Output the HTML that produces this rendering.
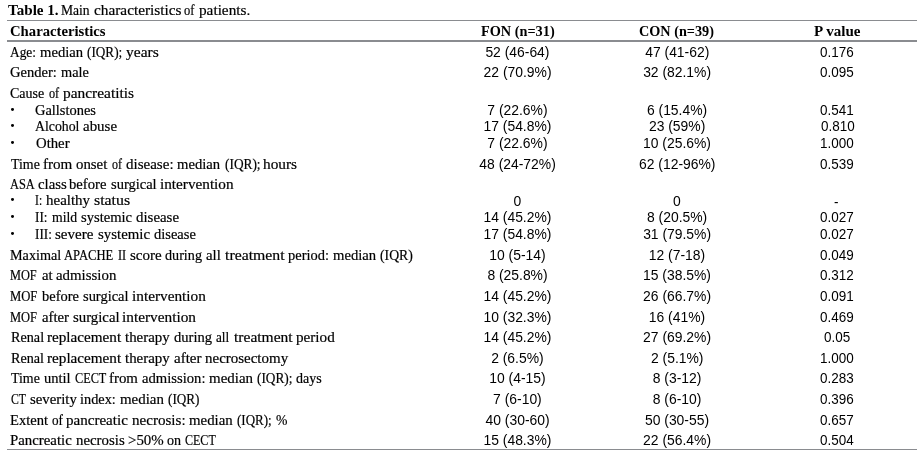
<!DOCTYPE html>
<html><head><meta charset="utf-8"><style>
html,body{margin:0;padding:0;background:#fff;}
body{width:923px;height:450px;overflow:hidden;position:relative;}
#w{position:absolute;left:0;top:0;width:923px;height:450px;will-change:transform;font-family:"Liberation Serif",serif;color:#000;}
.t{position:absolute;white-space:pre;font-size:15.0px;line-height:15.0px;transform-origin:0 0;-webkit-text-stroke:0.2px #000;}
.b{font-weight:bold;-webkit-text-stroke:0;}
.s{font-family:"Liberation Sans",sans-serif;font-size:13.9px;line-height:13.9px;-webkit-text-stroke:0;}
.hl{position:absolute;left:7px;width:910px;background:#8a8c90;}
.bu{position:absolute;width:3.7px;height:3.5px;border-radius:50%;background:#000;}
</style></head><body><div id="w">

<div class="hl" style="top:20px;height:1px"></div>
<div class="hl" style="top:40px;height:2px"></div>
<div class="hl" style="top:449px;height:1px"></div>
<div class="bu" style="left:10.80px;top:107.80px"></div>
<div class="bu" style="left:10.80px;top:123.80px"></div>
<div class="bu" style="left:10.80px;top:140.80px"></div>
<div class="bu" style="left:10.80px;top:197.80px"></div>
<div class="bu" style="left:10.80px;top:214.80px"></div>
<div class="bu" style="left:10.80px;top:231.80px"></div>
<span class="t b" style="left:8.00px;top:3.00px;transform:scaleX(1.0066);">Table 1.</span>
<span class="t b" style="left:10.45px;top:24.00px;transform:scaleX(0.9806);">Characteristics</span>
<span class="t b" style="left:480.72px;top:24.00px;transform:scaleX(0.9532);">FON (n=31)</span>
<span class="t b" style="left:639.47px;top:24.00px;transform:scaleX(0.9490);">CON (n=39)</span>
<span class="t b" style="left:813.82px;top:24.00px;transform:scaleX(1.0040);">P value</span>
<span class="t s" style="left:485.38px;top:46.00px;">52 (46-64)</span>
<span class="t s" style="left:645.21px;top:46.00px;">47 (41-62)</span>
<span class="t s" style="left:820.04px;top:46.00px;transform:scaleX(0.9700);">0.176</span>
<span class="t s" style="left:483.60px;top:66.00px;">22 (70.9%)</span>
<span class="t s" style="left:643.13px;top:66.00px;">32 (82.1%)</span>
<span class="t s" style="left:819.99px;top:66.00px;transform:scaleX(0.9700);">0.095</span>
<span class="t s" style="left:487.33px;top:104.00px;">7 (22.6%)</span>
<span class="t s" style="left:646.93px;top:104.00px;">6 (15.4%)</span>
<span class="t s" style="left:820.06px;top:104.00px;transform:scaleX(0.9700);">0.541</span>
<span class="t s" style="left:483.48px;top:120.00px;">17 (54.8%)</span>
<span class="t s" style="left:648.91px;top:120.00px;">23 (59%)</span>
<span class="t s" style="left:820.54px;top:120.00px;transform:scaleX(0.9700);">0.810</span>
<span class="t s" style="left:487.33px;top:137.00px;">7 (22.6%)</span>
<span class="t s" style="left:643.02px;top:137.00px;">10 (25.6%)</span>
<span class="t s" style="left:819.89px;top:137.00px;transform:scaleX(0.9700);">1.000</span>
<span class="t s" style="left:479.37px;top:158.00px;">48 (24-72%)</span>
<span class="t s" style="left:639.05px;top:158.00px;">62 (12-96%)</span>
<span class="t s" style="left:820.11px;top:158.00px;transform:scaleX(0.9700);">0.539</span>
<span class="t s" style="left:513.47px;top:195.00px;">0</span>
<span class="t s" style="left:673.09px;top:195.00px;">0</span>
<span class="t s" style="left:834.42px;top:195.50px;transform:scaleX(0.9700);">-</span>
<span class="t s" style="left:483.48px;top:211.00px;">14 (45.2%)</span>
<span class="t s" style="left:647.03px;top:211.00px;">8 (20.5%)</span>
<span class="t s" style="left:820.09px;top:211.00px;transform:scaleX(0.9700);">0.027</span>
<span class="t s" style="left:483.48px;top:228.00px;">17 (54.8%)</span>
<span class="t s" style="left:643.13px;top:228.00px;">31 (79.5%)</span>
<span class="t s" style="left:820.09px;top:228.00px;transform:scaleX(0.9700);">0.027</span>
<span class="t s" style="left:489.23px;top:249.00px;">10 (5-14)</span>
<span class="t s" style="left:648.75px;top:249.00px;">12 (7-18)</span>
<span class="t s" style="left:820.11px;top:249.00px;transform:scaleX(0.9700);">0.049</span>
<span class="t s" style="left:487.39px;top:269.00px;">8 (25.8%)</span>
<span class="t s" style="left:643.02px;top:269.00px;">15 (38.5%)</span>
<span class="t s" style="left:820.09px;top:269.00px;transform:scaleX(0.9700);">0.312</span>
<span class="t s" style="left:483.48px;top:290.00px;">14 (45.2%)</span>
<span class="t s" style="left:643.12px;top:290.00px;">26 (66.7%)</span>
<span class="t s" style="left:820.06px;top:290.00px;transform:scaleX(0.9700);">0.091</span>
<span class="t s" style="left:483.48px;top:311.00px;">10 (32.3%)</span>
<span class="t s" style="left:648.75px;top:311.00px;">16 (41%)</span>
<span class="t s" style="left:820.11px;top:311.00px;transform:scaleX(0.9700);">0.469</span>
<span class="t s" style="left:483.48px;top:331.00px;">14 (45.2%)</span>
<span class="t s" style="left:643.12px;top:331.00px;">27 (69.2%)</span>
<span class="t s" style="left:823.63px;top:331.00px;transform:scaleX(0.9700);">0.05</span>
<span class="t s" style="left:491.14px;top:352.00px;">2 (6.5%)</span>
<span class="t s" style="left:650.98px;top:352.00px;">2 (5.1%)</span>
<span class="t s" style="left:819.89px;top:352.00px;transform:scaleX(0.9700);">1.000</span>
<span class="t s" style="left:489.23px;top:372.00px;">10 (4-15)</span>
<span class="t s" style="left:652.75px;top:372.00px;">8 (3-12)</span>
<span class="t s" style="left:820.11px;top:372.00px;transform:scaleX(0.9700);">0.283</span>
<span class="t s" style="left:493.12px;top:393.00px;">7 (6-10)</span>
<span class="t s" style="left:652.75px;top:393.00px;">8 (6-10)</span>
<span class="t s" style="left:820.04px;top:393.00px;transform:scaleX(0.9700);">0.396</span>
<span class="t s" style="left:485.57px;top:414.00px;">40 (30-60)</span>
<span class="t s" style="left:644.96px;top:414.00px;">50 (30-55)</span>
<span class="t s" style="left:820.09px;top:414.00px;transform:scaleX(0.9700);">0.657</span>
<span class="t s" style="left:483.48px;top:434.00px;">15 (48.3%)</span>
<span class="t s" style="left:643.12px;top:434.00px;">22 (56.4%)</span>
<span class="t s" style="left:820.28px;top:434.00px;transform:scaleX(0.9700);">0.504</span>
<span class="t" style="left:60.79px;top:3.00px;transform:scaleX(0.9051);">Main</span>
<span class="t" style="left:93.79px;top:3.00px;transform:scaleX(1.0206);">characteristics</span>
<span class="t" style="left:184.30px;top:3.00px;transform:scaleX(0.8327);">of</span>
<span class="t" style="left:198.60px;top:3.00px;transform:scaleX(1.0164);">patients.</span>
<span class="t" style="left:10.30px;top:45.00px;transform:scaleX(0.8897);">Age:</span>
<span class="t" style="left:39.70px;top:45.00px;transform:scaleX(0.9769);">median</span>
<span class="t" style="left:87.30px;top:45.00px;transform:scaleX(0.8804);">(IQR);</span>
<span class="t" style="left:125.65px;top:45.00px;transform:scaleX(1.0333);">years</span>
<span class="t" style="left:10.28px;top:65.00px;transform:scaleX(0.9689);">Gender:</span>
<span class="t" style="left:60.50px;top:65.00px;transform:scaleX(0.9557);">male</span>
<span class="t" style="left:10.14px;top:86.00px;transform:scaleX(0.9344);">Cause</span>
<span class="t" style="left:48.51px;top:86.00px;transform:scaleX(0.8165);">of</span>
<span class="t" style="left:62.79px;top:86.00px;transform:scaleX(1.0268);">pancreatitis</span>
<span class="t" style="left:35.09px;top:103.00px;transform:scaleX(0.9629);">Gallstones</span>
<span class="t" style="left:35.03px;top:119.00px;transform:scaleX(0.9198);">Alcohol</span>
<span class="t" style="left:83.30px;top:119.00px;transform:scaleX(0.9963);">abuse</span>
<span class="t" style="left:35.51px;top:136.00px;transform:scaleX(0.9821);">Other</span>
<span class="t" style="left:10.70px;top:157.00px;transform:scaleX(0.9262);">Time</span>
<span class="t" style="left:43.22px;top:157.00px;transform:scaleX(1.0074);">from</span>
<span class="t" style="left:76.30px;top:157.00px;transform:scaleX(0.9881);">onset</span>
<span class="t" style="left:111.66px;top:157.00px;transform:scaleX(0.8010);">of</span>
<span class="t" style="left:125.70px;top:157.00px;transform:scaleX(1.0017);">disease:</span>
<span class="t" style="left:176.51px;top:157.00px;transform:scaleX(0.9770);">median</span>
<span class="t" style="left:224.50px;top:157.00px;transform:scaleX(0.8896);">(IQR);</span>
<span class="t" style="left:263.17px;top:157.00px;transform:scaleX(1.0204);">hours</span>
<span class="t" style="left:9.95px;top:177.00px;transform:scaleX(0.8238);">ASA</span>
<span class="t" style="left:37.89px;top:177.00px;transform:scaleX(0.9877);">class</span>
<span class="t" style="left:69.44px;top:177.00px;transform:scaleX(0.9763);">before</span>
<span class="t" style="left:110.90px;top:177.00px;transform:scaleX(0.9665);">surgical</span>
<span class="t" style="left:160.42px;top:177.00px;transform:scaleX(1.0152);">intervention</span>
<span class="t" style="left:35.11px;top:193.00px;transform:scaleX(0.7762);">I:</span>
<span class="t" style="left:46.36px;top:193.00px;transform:scaleX(0.9983);">healthy</span>
<span class="t" style="left:93.53px;top:193.00px;transform:scaleX(1.0549);">status</span>
<span class="t" style="left:35.05px;top:210.00px;transform:scaleX(0.8849);">II:</span>
<span class="t" style="left:51.50px;top:210.00px;transform:scaleX(0.9150);">mild</span>
<span class="t" style="left:80.50px;top:210.00px;transform:scaleX(0.9736);">systemic</span>
<span class="t" style="left:135.69px;top:210.00px;transform:scaleX(0.9935);">disease</span>
<span class="t" style="left:35.06px;top:227.00px;transform:scaleX(0.8790);">III:</span>
<span class="t" style="left:55.39px;top:227.00px;transform:scaleX(1.0018);">severe</span>
<span class="t" style="left:97.70px;top:227.00px;transform:scaleX(0.9907);">systemic</span>
<span class="t" style="left:153.70px;top:227.00px;transform:scaleX(0.9655);">disease</span>
<span class="t" style="left:10.17px;top:248.00px;transform:scaleX(0.9455);">Maximal</span>
<span class="t" style="left:64.30px;top:248.00px;transform:scaleX(0.8411);">APACHE</span>
<span class="t" style="left:117.67px;top:248.00px;transform:scaleX(0.8143);">II</span>
<span class="t" style="left:129.59px;top:248.00px;transform:scaleX(1.0013);">score</span>
<span class="t" style="left:165.10px;top:248.00px;transform:scaleX(0.9439);">during</span>
<span class="t" style="left:206.30px;top:248.00px;transform:scaleX(0.9913);">all</span>
<span class="t" style="left:224.70px;top:248.00px;transform:scaleX(1.0530);">treatment</span>
<span class="t" style="left:288.10px;top:248.00px;transform:scaleX(0.9643);">period:</span>
<span class="t" style="left:332.50px;top:248.00px;transform:scaleX(0.9774);">median</span>
<span class="t" style="left:379.57px;top:248.00px;transform:scaleX(0.9168);">(IQR)</span>
<span class="t" style="left:10.24px;top:268.00px;transform:scaleX(0.8219);">MOF</span>
<span class="t" style="left:41.51px;top:268.00px;transform:scaleX(0.9845);">at</span>
<span class="t" style="left:55.50px;top:268.00px;transform:scaleX(0.9916);">admission</span>
<span class="t" style="left:10.22px;top:289.00px;transform:scaleX(0.8421);">MOF</span>
<span class="t" style="left:41.65px;top:289.00px;transform:scaleX(0.9639);">before</span>
<span class="t" style="left:82.91px;top:289.00px;transform:scaleX(0.9642);">surgical</span>
<span class="t" style="left:132.23px;top:289.00px;transform:scaleX(1.0197);">intervention</span>
<span class="t" style="left:10.21px;top:310.00px;transform:scaleX(0.8322);">MOF</span>
<span class="t" style="left:41.50px;top:310.00px;transform:scaleX(0.9830);">after</span>
<span class="t" style="left:72.70px;top:310.00px;transform:scaleX(0.9870);">surgical</span>
<span class="t" style="left:122.23px;top:310.00px;transform:scaleX(1.0202);">intervention</span>
<span class="t" style="left:10.64px;top:330.00px;transform:scaleX(0.9450);">Renal</span>
<span class="t" style="left:46.65px;top:330.00px;transform:scaleX(1.0112);">replacement</span>
<span class="t" style="left:124.90px;top:330.00px;transform:scaleX(0.9941);">therapy</span>
<span class="t" style="left:173.91px;top:330.00px;transform:scaleX(0.9706);">during</span>
<span class="t" style="left:216.32px;top:330.00px;transform:scaleX(0.8805);">all</span>
<span class="t" style="left:233.90px;top:330.00px;transform:scaleX(1.0361);">treatment</span>
<span class="t" style="left:296.29px;top:330.00px;transform:scaleX(1.0099);">period</span>
<span class="t" style="left:10.64px;top:351.00px;transform:scaleX(0.9449);">Renal</span>
<span class="t" style="left:46.65px;top:351.00px;transform:scaleX(1.0118);">replacement</span>
<span class="t" style="left:124.90px;top:351.00px;transform:scaleX(0.9950);">therapy</span>
<span class="t" style="left:173.90px;top:351.00px;transform:scaleX(1.0021);">after</span>
<span class="t" style="left:204.54px;top:351.00px;transform:scaleX(0.9981);">necrosectomy</span>
<span class="t" style="left:10.70px;top:371.00px;transform:scaleX(0.9267);">Time</span>
<span class="t" style="left:43.62px;top:371.00px;transform:scaleX(0.9665);">until</span>
<span class="t" style="left:74.70px;top:371.00px;transform:scaleX(0.8169);">CECT</span>
<span class="t" style="left:109.23px;top:371.00px;transform:scaleX(0.9908);">from</span>
<span class="t" style="left:141.70px;top:371.00px;transform:scaleX(0.9770);">admission:</span>
<span class="t" style="left:208.70px;top:371.00px;transform:scaleX(0.9965);">median</span>
<span class="t" style="left:256.50px;top:371.00px;transform:scaleX(0.8873);">(IQR);</span>
<span class="t" style="left:295.51px;top:371.00px;transform:scaleX(0.9322);">days</span>
<span class="t" style="left:10.69px;top:392.00px;transform:scaleX(0.7825);">CT</span>
<span class="t" style="left:29.50px;top:392.00px;transform:scaleX(0.9876);">severity</span>
<span class="t" style="left:80.46px;top:392.00px;transform:scaleX(0.9536);">index:</span>
<span class="t" style="left:119.50px;top:392.00px;transform:scaleX(0.9948);">median</span>
<span class="t" style="left:167.50px;top:392.00px;transform:scaleX(0.8788);">(IQR)</span>
<span class="t" style="left:10.16px;top:413.00px;transform:scaleX(0.9730);">Extent</span>
<span class="t" style="left:51.89px;top:413.00px;transform:scaleX(0.8781);">of</span>
<span class="t" style="left:66.29px;top:413.00px;transform:scaleX(1.0034);">pancreatic</span>
<span class="t" style="left:131.55px;top:413.00px;transform:scaleX(1.0048);">necrosis:</span>
<span class="t" style="left:188.70px;top:413.00px;transform:scaleX(0.9904);">median</span>
<span class="t" style="left:236.50px;top:413.00px;transform:scaleX(0.8667);">(IQR);</span>
<span class="t" style="left:275.50px;top:413.00px;transform:scaleX(0.9154);">%</span>
<span class="t" style="left:10.12px;top:433.00px;transform:scaleX(0.9893);">Pancreatic</span>
<span class="t" style="left:75.75px;top:433.00px;transform:scaleX(0.9903);">necrosis</span>
<span class="t" style="left:127.84px;top:433.00px;transform:scaleX(0.9944);">&gt;50%</span>
<span class="t" style="left:167.30px;top:433.00px;transform:scaleX(0.9392);">on</span>
<span class="t" style="left:185.29px;top:433.00px;transform:scaleX(0.8016);">CECT</span>
</div></body></html>
